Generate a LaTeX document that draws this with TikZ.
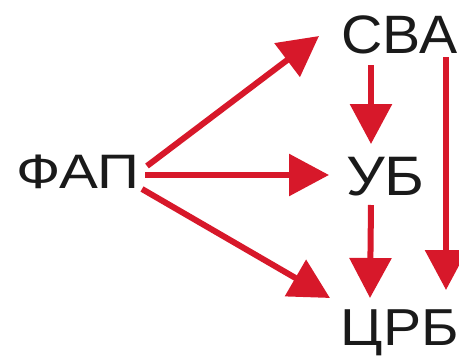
\documentclass[tikz,border=0pt]{standalone}
\usepackage{fontspec}
\usepackage{graphicx}
\setmainfont{Liberation Sans}
\usetikzlibrary{arrows.meta}
\definecolor{arrred}{HTML}{D7182A}
\definecolor{txt}{HTML}{1A1A1A}
\begin{document}
\begin{tikzpicture}[x=1pt,y=-1pt,
  lbl/.style={inner sep=0pt, anchor=base west, font=\fontsize{52}{52}\selectfont, text=txt},
  arr/.style={draw=arrred, line width=6pt, -{Triangle[length=40pt,width=41pt]}}]
\useasboundingbox (0,0) rectangle (459,356);
\node[lbl] (fap) at (16,188) {\scalebox{1.12}[0.93]{ФАП}};
\node[lbl] (sva) at (341.5,53) {\scalebox{1.10}[1.04]{СВА}};
\node[lbl] (ub) at (346,195) {\scalebox{1.17}[1.07]{УБ}};
\node[lbl] (crb) at (340.5,345) {\scalebox{1.10}[1.0]{ЦРБ}};
\draw[arr] ([shift={(131,-22)}]fap.base west) -- ([shift={(-22.5,-17)}]sva.base west);
\draw[arr] ([shift={(129,-13)}]fap.base west) -- ([shift={(-17,-20)}]ub.base west);
\draw[arr] ([shift={(126,1)}]fap.base west) -- ([shift={(-10.5,-47)}]crb.base west);
\draw[arr] ([shift={(29.5,12)}]sva.base west) -- ([shift={(25,-51)}]ub.base west);
\draw[arr] ([shift={(25,10)}]ub.base west) -- ([shift={(29.5,-47)}]crb.base west);
\draw[arr] ([shift={(104.5,4)}]sva.base west) -- ([shift={(105.5,-55)}]crb.base west);
\end{tikzpicture}
\end{document}
